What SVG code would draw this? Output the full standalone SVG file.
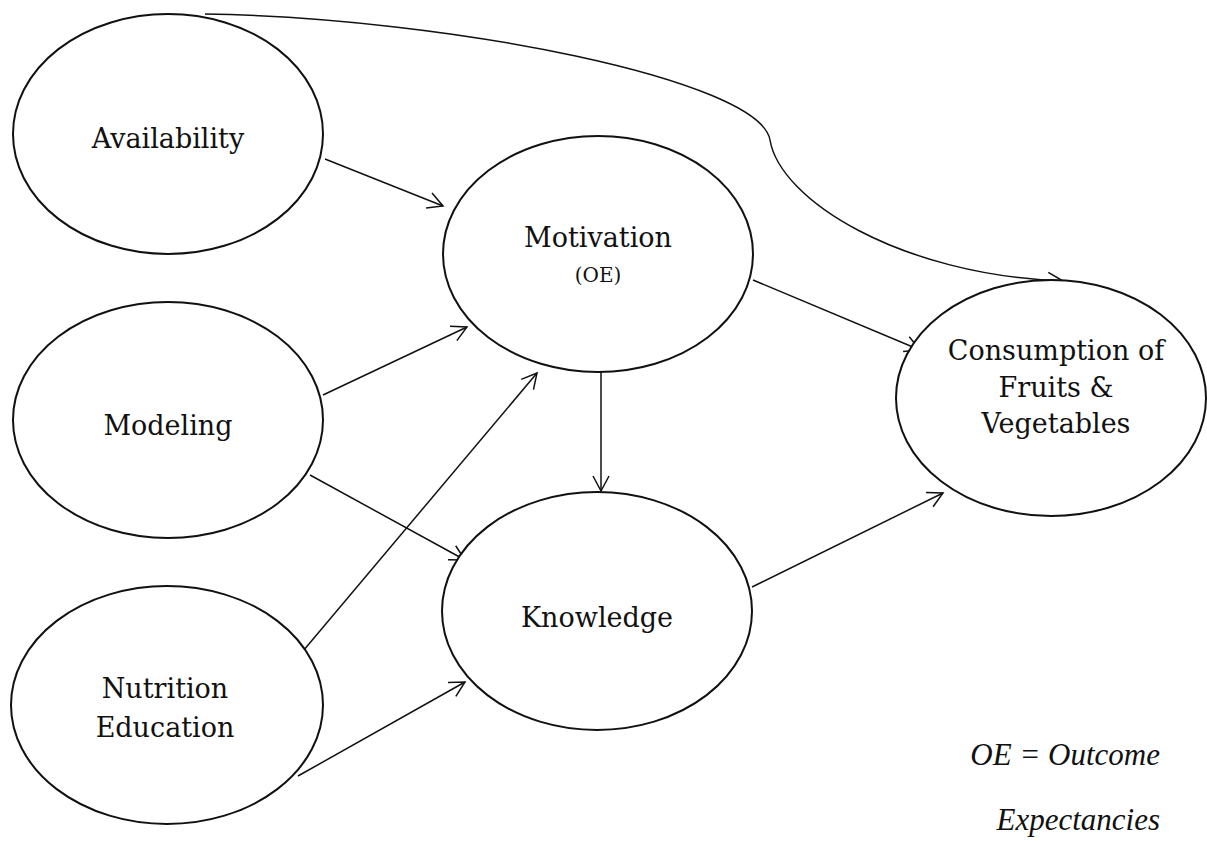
<svg xmlns="http://www.w3.org/2000/svg" width="1207" height="842" viewBox="0 0 1207 842">
  <style>
    .node { fill: #ffffff; stroke: #111111; stroke-width: 2; }
    .lbl { font-family: "DejaVu Serif", "Liberation Serif", serif; font-size: 27px; fill: #111111; text-anchor: middle; }
    .sm { font-size: 20px; }
    .edge { fill: none; stroke: #111111; stroke-width: 1.5; marker-end: url(#arr); }
    .legend { font-family: "Liberation Serif", serif; font-style: italic; font-size: 31px; fill: #111111; text-anchor: end; }
  </style>
  <defs>
    <marker id="arr" markerUnits="userSpaceOnUse" markerWidth="20" markerHeight="20" refX="17" refY="10" orient="auto">
      <path d="M2,2 L17,10 L2,18" fill="none" stroke="#111111" stroke-width="1.5"/>
    </marker>
  </defs>
  <rect width="1207" height="842" fill="#ffffff"/>

  <g id="connectors">
    <path class="edge" d="M205,14 C450,18 760,80 770,140 C780,200 900,275 1063,281"/>
    <line class="edge" x1="325" y1="159" x2="443" y2="206"/>
    <line class="edge" x1="323" y1="395" x2="467" y2="327"/>
    <line class="edge" x1="310" y1="475" x2="465" y2="560"/>
    <line class="edge" x1="298" y1="657" x2="537" y2="373"/>
    <line class="edge" x1="298" y1="776" x2="465" y2="682"/>
    <line class="edge" x1="601" y1="372" x2="601" y2="491"/>
    <line class="edge" x1="753" y1="280" x2="920" y2="350"/>
    <line class="edge" x1="752" y1="587" x2="943" y2="493"/>
  </g>

  <g id="availability">
    <ellipse class="node" cx="168" cy="134" rx="155" ry="120"/>
    <text class="lbl" x="168" y="148">Availability</text>
  </g>
  <g id="modeling">
    <ellipse class="node" cx="168" cy="420" rx="155" ry="118"/>
    <text class="lbl" x="168" y="435">Modeling</text>
  </g>
  <g id="nutrition-education">
    <ellipse class="node" cx="167" cy="705" rx="156" ry="119"/>
    <text class="lbl" x="165" y="698">Nutrition</text>
    <text class="lbl" x="165" y="737">Education</text>
  </g>
  <g id="motivation">
    <ellipse class="node" cx="598" cy="254" rx="155" ry="118"/>
    <text class="lbl" x="598" y="247">Motivation</text>
    <text class="lbl sm" x="598" y="282">(OE)</text>
  </g>
  <g id="knowledge">
    <ellipse class="node" cx="597" cy="611" rx="155" ry="119"/>
    <text class="lbl" x="597" y="627">Knowledge</text>
  </g>
  <g id="consumption">
    <ellipse class="node" cx="1051" cy="398" rx="155" ry="118"/>
    <text class="lbl" x="1056" y="360">Consumption of</text>
    <text class="lbl" x="1056" y="397">Fruits &amp;</text>
    <text class="lbl" x="1056" y="433">Vegetables</text>
  </g>

  <g id="legend">
    <text class="legend" x="1160" y="765">OE = Outcome</text>
    <text class="legend" x="1160" y="830">Expectancies</text>
  </g>
</svg>
